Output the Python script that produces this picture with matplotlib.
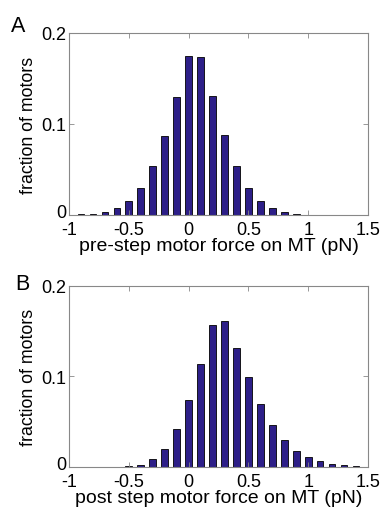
import matplotlib
matplotlib.use("Agg")
import matplotlib.pyplot as plt
import matplotlib.transforms as mtransforms
import numpy as np

plt.rcParams['font.family'] = ['Liberation Sans', 'DejaVu Sans']

# Panel A: pre-step force distribution
pre_x = [-0.9, -0.8, -0.7, -0.6, -0.5, -0.4, -0.3, -0.2, -0.1, 0.0,
         0.1, 0.2, 0.3, 0.4, 0.5, 0.6, 0.7, 0.8, 0.9, 1.0]
pre_y = [0.0007, 0.0015, 0.0037, 0.0080, 0.0150, 0.0293, 0.0535, 0.0864, 0.1300, 0.1744,
         0.1740, 0.1310, 0.0880, 0.0535, 0.0297, 0.0154, 0.0073, 0.0033, 0.0015, 0.0004]

# Panel B: post-step force distribution
post_x = [-0.6, -0.5, -0.4, -0.3, -0.2, -0.1, 0.0, 0.1, 0.2, 0.3, 0.4, 0.5,
          0.6, 0.7, 0.8, 0.9, 1.0, 1.1, 1.2, 1.3, 1.4]
post_y = [0.0003, 0.0008, 0.0026, 0.0088, 0.0200, 0.0415, 0.0740, 0.1140, 0.1570, 0.1615,
          0.1310, 0.0994, 0.0697, 0.0459, 0.0297, 0.0180, 0.0110, 0.0066, 0.0037, 0.0018, 0.0011]

xticks = [-1, -0.5, 0, 0.5, 1, 1.5]
xticklabels = ["-1", "-0.5", "0", "0.5", "1", "1.5"]
yticks = [0, 0.1, 0.2]
yticklabels = ["0", "0.1", "0.2"]

bar_color = "#2d1f88"

fig = plt.figure(figsize=(3.81, 5.10), dpi=100)
ax1 = fig.add_axes([0.181, 0.5765, 0.785, 0.357])
ax2 = fig.add_axes([0.181, 0.0824, 0.785, 0.355])

panels = [(ax1, pre_x, pre_y, "pre-step motor force on MT (pN)", "A", -0.194, 1.011),
          (ax2, post_x, post_y, "post step motor force on MT (pN)", "B", -0.18, 0.983)]

for ax, xs, ys, xlabel, letter, lx, ly in panels:
    ax.bar(xs, ys, width=0.055, color=bar_color, edgecolor="black", linewidth=0.6)
    ax.set_xlim(-1, 1.5)
    ax.set_ylim(0, 0.2)
    ax.set_xticks(xticks)
    ax.set_xticklabels(xticklabels)
    ax.set_yticks(yticks)
    ax.set_yticklabels(yticklabels)
    ax.tick_params(direction="in", top=True, right=True, length=3.5, width=0.6,
                   colors="#888888", labelcolor="black", labelsize=13)
    ax.tick_params(axis="x", pad=4.5)
    ax.tick_params(axis="y", pad=2)
    # lift the "0" y tick label slightly so it clears the "-1" x tick label
    zero_lbl = ax.get_yticklabels()[0]
    zero_lbl.set_transform(zero_lbl.get_transform() +
                           mtransforms.ScaledTranslation(0, 3.5 / 72, fig.dpi_scale_trans))
    for s in ax.spines.values():
        s.set_color("#888888")
        s.set_linewidth(0.8)
    ax.set_xlabel(xlabel, fontsize=14, labelpad=-1)
    ax.set_ylabel("fraction of motors", fontsize=12.8, labelpad=3)
    ax.text(lx, ly, letter, transform=ax.transAxes, fontsize=15.5,
            ha="left", va="baseline")

fig.savefig("out.png", dpi=100)
